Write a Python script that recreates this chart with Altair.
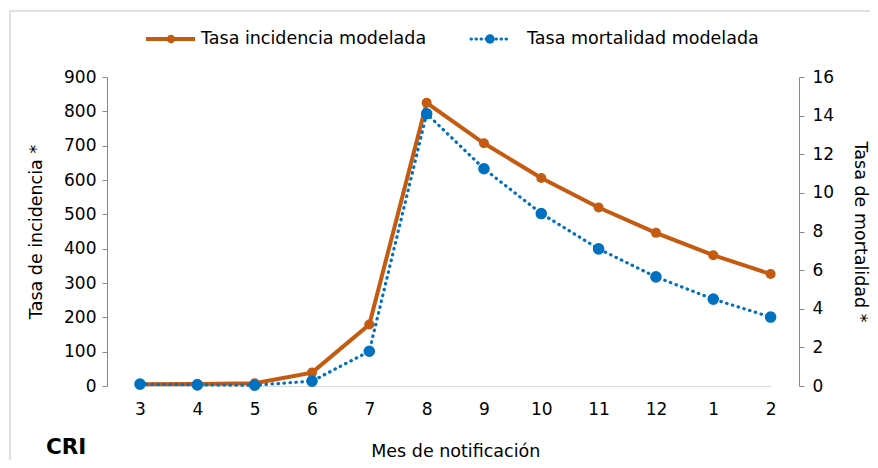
import altair as alt
import pandas as pd

months = ["3", "4", "5", "6", "7", "8", "9", "10", "11", "12", "1", "2"]
incidencia = [5, 6, 8, 39, 179, 825, 707, 606, 520, 446, 381, 326]
mortalidad = [0.1, 0.06, 0.04, 0.25, 1.8, 14.1, 11.25, 8.93, 7.1, 5.65, 4.5, 3.57]

serie_inc = "Tasa incidencia modelada"
serie_mor = "Tasa mortalidad modelada"

df = pd.DataFrame({"mes": months, "inc": incidencia, "mor": mortalidad})

ORANGE = "#C55A11"
BLUE = "#0070C0"
FONT = "DejaVu Sans"
FS = 17
FT = 17.5

W, H = 692, 309

x = alt.X("mes:N", sort=months, title="Mes de notificación",
          scale=alt.Scale(range=[33, 663.6], padding=0),
          axis=alt.Axis(labelAngle=0, ticks=False, domainColor="#d9d9d9",
                        labelPadding=15, titlePadding=25))

base = alt.Chart(df)

inc_line = base.mark_line(
    color=ORANGE, strokeWidth=4,
    point=alt.OverlayMarkDef(color=ORANGE, size=100, filled=True, opacity=1),
).encode(
    x=x,
    y=alt.Y("inc:Q", title="Tasa de incidencia *",
            scale=alt.Scale(domain=[0, 900], nice=False),
            axis=alt.Axis(values=list(range(0, 901, 100)), grid=False,
                          domainColor="#888888", tickColor="#888888",
                          tickSize=5, labelPadding=6, titlePadding=18)))

mor_line = base.mark_line(
    color=BLUE, strokeWidth=3.2, strokeDash=[0.5, 5.5], strokeCap="round",
    point=alt.OverlayMarkDef(color=BLUE, size=135, filled=True, opacity=1, strokeDash=[1, 0]),
).encode(
    x=x,
    y=alt.Y("mor:Q", title="Tasa de mortalidad *",
            scale=alt.Scale(domain=[0, 16], nice=False),
            axis=alt.Axis(orient="right", values=list(range(0, 17, 2)), grid=False,
                          domainColor="#888888", tickColor="#888888",
                          tickSize=5, labelPadding=8, titlePadding=17,
                          titleAngle=90)))

# legend and decorations
one = pd.DataFrame({"k": [0]})
ob = alt.Chart(one)
border = ob.mark_rect(fill=None, stroke="#e0e0e0", strokeWidth=2).encode(
    x=alt.value(-97), x2=alt.value(900), y=alt.value(-66), y2=alt.value(500))
leg1_line = ob.mark_rule(color=ORANGE, strokeWidth=4).encode(
    x=alt.value(39), x2=alt.value(88), y=alt.value(-38))
leg1_pt = ob.mark_circle(color=ORANGE, size=70, opacity=1).encode(
    x=alt.value(64), y=alt.value(-38))
leg1_txt = ob.mark_text(align="left", baseline="middle", font=FONT, fontSize=FT, color="#000").encode(
    x=alt.value(94), y=alt.value(-38), text=alt.value(serie_inc))
leg2_line = ob.mark_rule(color=BLUE, strokeWidth=3, strokeDash=[0.5, 4.5], strokeCap="round").encode(
    x=alt.value(364), x2=alt.value(400), y=alt.value(-38))
leg2_pt = ob.mark_circle(color=BLUE, size=90, opacity=1).encode(
    x=alt.value(383), y=alt.value(-38))
leg2_txt = ob.mark_text(align="left", baseline="middle", font=FONT, fontSize=FT, color="#000").encode(
    x=alt.value(420), y=alt.value(-38), text=alt.value(serie_mor))
cri = ob.mark_text(align="left", baseline="middle", font=FONT, fontSize=21.5,
                   fontWeight="bold", color="#000").encode(
    x=alt.value(-61), y=alt.value(62 + H), text=alt.value("CRI"))

deco = alt.layer(border, leg1_line, leg1_pt, leg1_txt, leg2_line, leg2_pt, leg2_txt, cri)

chart = alt.layer(inc_line, mor_line, deco).resolve_scale(y="independent").properties(
    width=W, height=H,
    autosize=alt.AutoSizeParams(type="none"),
    padding={"left": 99, "top": 69, "right": 71, "bottom": 74},
).configure_view(stroke=None).configure_axis(
    labelFont=FONT, titleFont=FONT, labelFontSize=FS, titleFontSize=FT,
    labelColor="#000", titleColor="#000", titleFontWeight="normal",
)

chart.save("out.html", embed_options={"renderer": "svg", "actions": False})
